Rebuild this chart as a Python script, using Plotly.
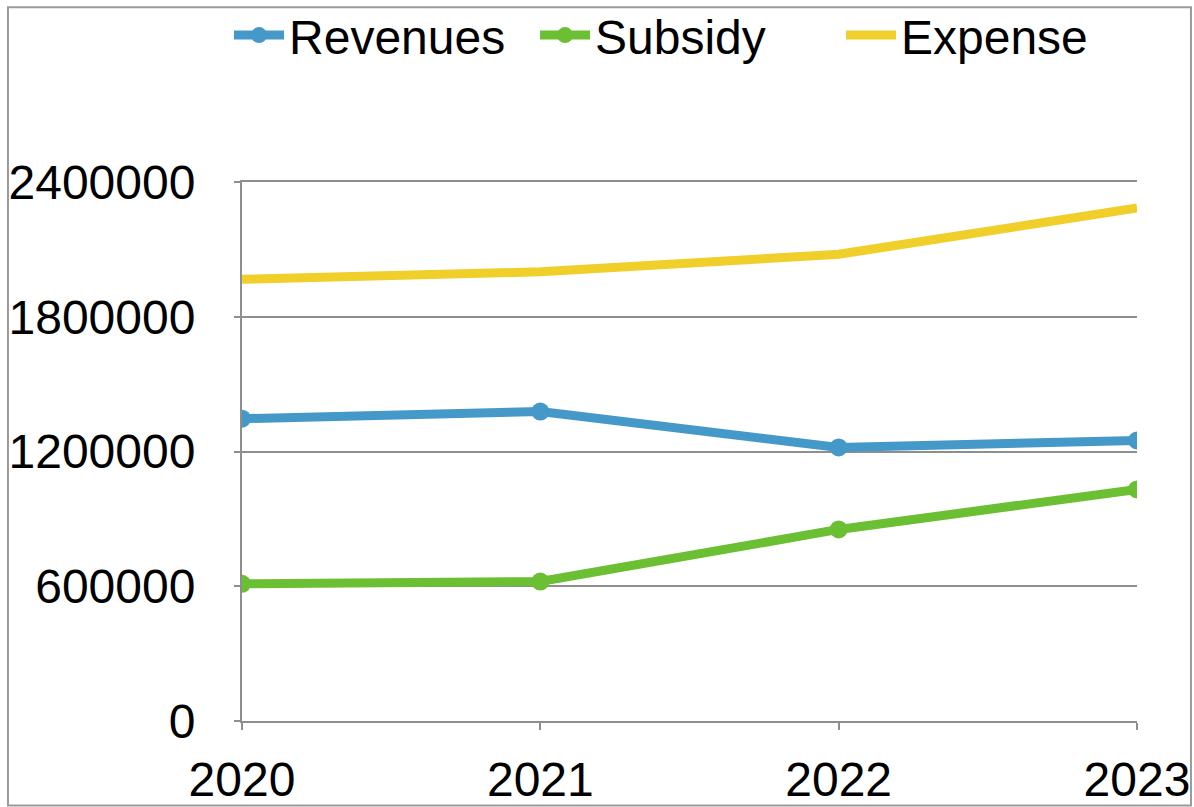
import plotly.graph_objects as go

years = ["2020", "2021", "2022", "2023"]
revenues = [1346000, 1378000, 1218000, 1249000]
subsidy = [611000, 621000, 853000, 1031000]
expense = [1967000, 2000000, 2078000, 2284000]
y_ticks = [0, 600000, 1200000, 1800000, 2400000]

FONT = "Liberation Sans, Arial, Helvetica, sans-serif"
GRID = "#8e8e8e"

fig = go.Figure()
fig.add_trace(go.Scatter(x=years, y=revenues, name="Revenues", mode="lines+markers",
                         line=dict(color="#4499C8", width=9),
                         marker=dict(size=18, color="#4499C8")))
fig.add_trace(go.Scatter(x=years, y=subsidy, name="Subsidy", mode="lines+markers",
                         line=dict(color="#6BBF33", width=9),
                         marker=dict(size=18, color="#6BBF33")))
fig.add_trace(go.Scatter(x=years, y=expense, name="Expense", mode="lines",
                         line=dict(color="#F0CF2A", width=9)))

fig.update_layout(
    width=1194, height=807,
    margin=dict(l=242, r=57, t=182, b=86, autoexpand=False),
    paper_bgcolor="white", plot_bgcolor="white",
    font=dict(family=FONT, size=48, color="black"),
    showlegend=True,
    legend=dict(orientation="h", x=-0.0145, xanchor="left", y=1.272, yanchor="middle",
                font=dict(size=48), bgcolor="rgba(0,0,0,0)", traceorder="normal",
                itemwidth=50, entrywidth=241, entrywidthmode="pixels"),
    xaxis=dict(type="category", range=[0, 3], showgrid=False, zeroline=False,
               showline=True, mirror=True, linecolor=GRID, linewidth=2,
               ticks="outside", ticklen=7, tickwidth=2, tickcolor=GRID,
               ticklabelstandoff=8, automargin=False, tickfont=dict(size=48)),
    yaxis=dict(range=[0, 2400000], tickvals=y_ticks, ticktext=[str(v) for v in y_ticks],
               showgrid=True, gridcolor=GRID, gridwidth=2, zeroline=False,
               showline=True, linecolor=GRID, linewidth=2,
               ticks="outside", ticklen=6, tickwidth=2, tickcolor=GRID,
               ticklabelstandoff=29, automargin=False, tickfont=dict(size=48)),
)

fig.add_shape(type="rect", xref="paper", yref="paper",
              x0=-0.2615, x1=1.0603, y0=-0.1568, y1=1.3242,
              line=dict(color="#9a9a9a", width=2), layer="below")

fig.write_html("out.html")
